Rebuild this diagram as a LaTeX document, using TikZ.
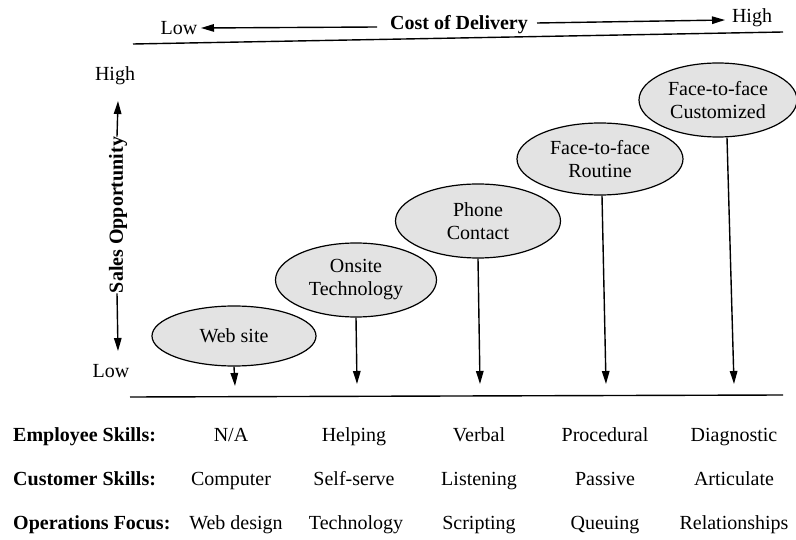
\documentclass[tikz,border=0pt]{standalone}
\usepackage{fontspec}
\setmainfont{Liberation Serif}
\usetikzlibrary{shapes.geometric,arrows.meta}

\begin{document}
\begin{tikzpicture}[x=1pt,y=-1pt,
  txt/.style={inner sep=0pt,font=\fontsize{20}{23}\selectfont},
  bubble/.style={ellipse,draw=black,line width=1.2pt,fill=gray!22,inner sep=0pt,
                 align=center,font=\fontsize{20}{23}\selectfont},
  rowlabel/.style={anchor=base west,inner sep=0pt,font=\fontsize{20}{23}\selectfont\bfseries},
  cell/.style={anchor=base,inner sep=0pt,font=\fontsize{20}{23}\selectfont},
  axisarrow/.style={line width=1.4pt,-{Triangle[length=13pt,width=7.5pt]}},
  drop/.style={axisarrow},
  rule/.style={line width=1.4pt}]
\useasboundingbox (0,0) rectangle (796,540);

% ---- top axis: cost of delivery
\node[txt] (costlow) at (179,28) {Low};
\node[txt,font=\fontsize{20}{23}\selectfont\bfseries] (cost) at (459,25) {Cost of Delivery};
\node[txt] (costhigh) at (752,18) {High};
\coordinate (lefttail) at (377,27);
\coordinate (lefttip) at (201,28);
\coordinate (righttail) at (537,23);
\coordinate (righttip) at (725,20);
\draw[axisarrow] (lefttail) -- (lefttip);
\draw[axisarrow] (righttail) -- (righttip);
\coordinate (topL) at (133,44);
\coordinate (topR) at (783,32);
\draw[rule] (topL) -- (topR);

% ---- left axis: sales opportunity
\node[txt] (salehigh) at (115,76) {High};
\node[txt] (salelow) at (111,371) {Low};
\node[inner sep=0pt,rotate=90,font=\fontsize{20}{23}\selectfont\bfseries] (sales) at (118,215) {Sales Opportunity};
\coordinate (uptip) at (118,101);
\coordinate (downtip) at (118,351);
\draw[axisarrow] ([xshift=-1pt]sales.east) -- (uptip);
\draw[axisarrow] ([xshift=-1pt]sales.west) -- (downtip);

% ---- bottom rule
\coordinate (botL) at (130,397);
\coordinate (botR) at (783,395);
\draw[rule] (botL) -- (botR);

% ---- delivery channels
\node[bubble,minimum width=164pt,minimum height=60pt] (web) at (234,336) {Web site};
\node[bubble,minimum width=161pt,minimum height=74pt] (onsite) at (356,280) {Onsite\\Technology};
\node[bubble,minimum width=165pt,minimum height=74pt] (phone) at (478,221) {Phone\\Contact};
\node[bubble,minimum width=166pt,minimum height=72pt] (routine) at (600,159) {Face-to-face\\Routine};
\node[bubble,minimum width=158pt,minimum height=74pt] (custom) at (718,100) {Face-to-face\\Customized};

\coordinate (webtip) at (235,386);
\coordinate (onsitetip) at (357,384);
\coordinate (phonetip) at (480,384);
\coordinate (routinetip) at (606,384);
\coordinate (customtip) at (734,384);
\draw[drop] (web.south) -- (webtip);
\draw[drop] (onsite.south) -- (onsitetip);
\draw[drop] (phone.south) -- (phonetip);
\draw[drop] ([xshift=2pt]routine.south) -- (routinetip);
\draw[drop] ([xshift=9pt]custom.south) -- (customtip);

% ---- attribute table
\node[rowlabel] (emp) at (13,441) {Employee Skills:};
\node[rowlabel] (cus) at (13,485) {Customer Skills:};
\node[rowlabel] (ops) at (13,529) {Operations Focus:};

\node[cell] (e1) at (231,441) {N/A};
\node[cell] (e2) at (354,441) {Helping};
\node[cell] (e3) at (479,441) {Verbal};
\node[cell] (e4) at (605,441) {Procedural};
\node[cell] (e5) at (734,441) {Diagnostic};

\node[cell] (c1) at (231,485) {Computer};
\node[cell] (c2) at (354,485) {Self-serve};
\node[cell] (c3) at (479,485) {Listening};
\node[cell] (c4) at (605,485) {Passive};
\node[cell] (c5) at (734,485) {Articulate};

\node[cell] (o1) at (236,529) {Web design};
\node[cell] (o2) at (356,529) {Technology};
\node[cell] (o3) at (479,529) {Scripting};
\node[cell] (o4) at (605,529) {Queuing};
\node[cell] (o5) at (734,529) {Relationships};
\end{tikzpicture}
\end{document}
